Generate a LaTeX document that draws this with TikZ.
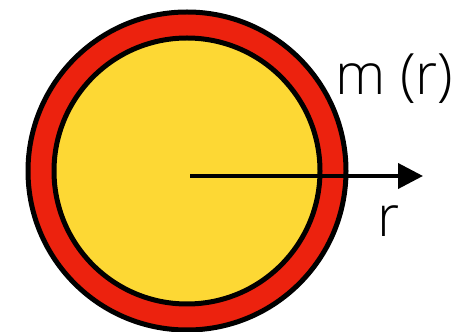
\documentclass[tikz,border=0pt]{standalone}
\usepackage{fontspec}
\setmainfont{Open Sans Light}
\usetikzlibrary{arrows.meta}
\definecolor{shellred}{RGB}{236,34,14}
\definecolor{coreyellow}{RGB}{253,216,52}

\begin{document}
\begin{tikzpicture}[x=1pt, y=1pt, every node/.style={font=\fontsize{57}{62}\selectfont, inner sep=0pt}, >={Triangle[length=25pt, width=25pt]}]
	\useasboundingbox (0,0) rectangle (474,332);
	\coordinate (c) at (187,161);
	\draw[line width=5pt, fill=shellred] (c) circle[radius=159pt];
	\draw[line width=5pt, fill=coreyellow] (c) circle[radius=133pt];
	\coordinate (o) at (190,156);
	\coordinate (tip) at (423,156);
	\draw[->, line width=4pt] (o) -- (tip);
	\node[anchor=base west] (mr) at (335,237) {m (r)};
	\node[anchor=base west] (rl) at (377,95) {r};
\end{tikzpicture}
\end{document}
